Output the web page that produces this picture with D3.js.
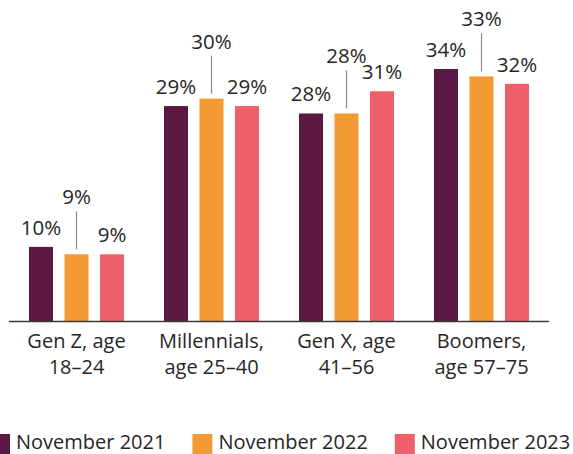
<!DOCTYPE html>
<html>
<head>
<meta charset="utf-8">
<script src="https://cdn.jsdelivr.net/npm/d3@7/dist/d3.min.js"></script>
<style>
  html, body { margin: 0; padding: 0; background: #fff; }
  svg { display: block; font-family: "Open Sans", sans-serif; }
</style>
</head>
<body>
<svg id="chart" width="573" height="454"></svg>
<script>
// Share of each generation, by survey wave (percent)
const categories = [["Gen Z, age", "18–24"], ["Millennials,", "age 25–40"], ["Gen X, age", "41–56"], ["Boomers,", "age 57–75"]];
const seriesNames = ["November 2021", "November 2022", "November 2023"];
const nov2021 = [10, 29, 28, 34];
const nov2022 = [9, 30, 28, 33];
const nov2023 = [9, 29, 31, 32];
const seriesColors = ["#5b1842", "#f49a35", "#ee5f6a"];

const seriesValues = [nov2021, nov2022, nov2023];
const catKeys = categories.map(c => c.join(" "));

const svg = d3.select("#chart");
const textColor = "#262626";

const x0 = d3.scaleBand().domain(catKeys).range([9, 549]).padding(0);
const x1 = d3.scaleBand().domain(seriesNames).range([20, 115]).paddingInner(0.324).paddingOuter(0);
const y = d3.scaleLinear().domain([0, 34]).range([321, 69]);

const rows = catKeys.map((k, i) => ({
  key: k,
  lines: categories[i],
  values: seriesNames.map((s, j) => ({ series: s, j, value: seriesValues[j][i] }))
}));

const groups = svg.selectAll("g.group").data(rows).join("g")
  .attr("class", "group")
  .attr("transform", d => `translate(${x0(d.key)},0)`);

groups.selectAll("rect").data(d => d.values).join("rect")
  .attr("x", d => x1(d.series))
  .attr("width", x1.bandwidth())
  .attr("y", d => y(d.value))
  .attr("height", d => y(0) - y(d.value))
  .attr("fill", d => seriesColors[d.j]);

// Value labels: outer bars labelled directly, middle bar raised with a leader line
groups.selectAll("text.val").data(d => d.values).join("text")
  .attr("class", "val")
  .attr("x", d => x1(d.series) + x1.bandwidth() / 2)
  .attr("y", d => d.j === 1 ? y(d.value) - 50 : y(d.value) - 12)
  .attr("text-anchor", "middle")
  .attr("font-size", 20.5)
  .attr("fill", textColor)
  .text(d => d.value + "%");

groups.selectAll("line.leader").data(d => d.values.filter(v => v.j === 1)).join("line")
  .attr("class", "leader")
  .attr("x1", d => x1(d.series) + x1.bandwidth() / 2)
  .attr("x2", d => x1(d.series) + x1.bandwidth() / 2)
  .attr("y1", d => y(d.value) - 43)
  .attr("y2", d => y(d.value) - 5)
  .attr("stroke", "#8a8a8a")
  .attr("stroke-width", 1.2);

// Baseline
svg.append("line")
  .attr("x1", x0.range()[0]).attr("x2", x0.range()[1])
  .attr("y1", y(0) + 0.5).attr("y2", y(0) + 0.5)
  .attr("stroke", "#3a3a3a").attr("stroke-width", 1.4);

// Category labels (two lines)
const catText = groups.append("text")
  .attr("text-anchor", "middle")
  .attr("font-size", 20)
  .attr("fill", textColor);
catText.selectAll("tspan").data(d => d.lines).join("tspan")
  .attr("x", x0.bandwidth() / 2)
  .attr("y", (d, i) => 348 + i * 26)
  .text(d => d);

// Legend
let lx = -10;
seriesNames.forEach((name, j) => {
  svg.append("rect")
    .attr("x", lx).attr("y", 434)
    .attr("width", 20).attr("height", 20)
    .attr("fill", seriesColors[j]);
  const t = svg.append("text")
    .attr("x", lx + 26).attr("y", 448.5)
    .attr("font-size", 20)
    .attr("fill", textColor)
    .text(name);
  lx += 26 + t.node().getComputedTextLength() + 27;
});
</script>
</body>
</html>
